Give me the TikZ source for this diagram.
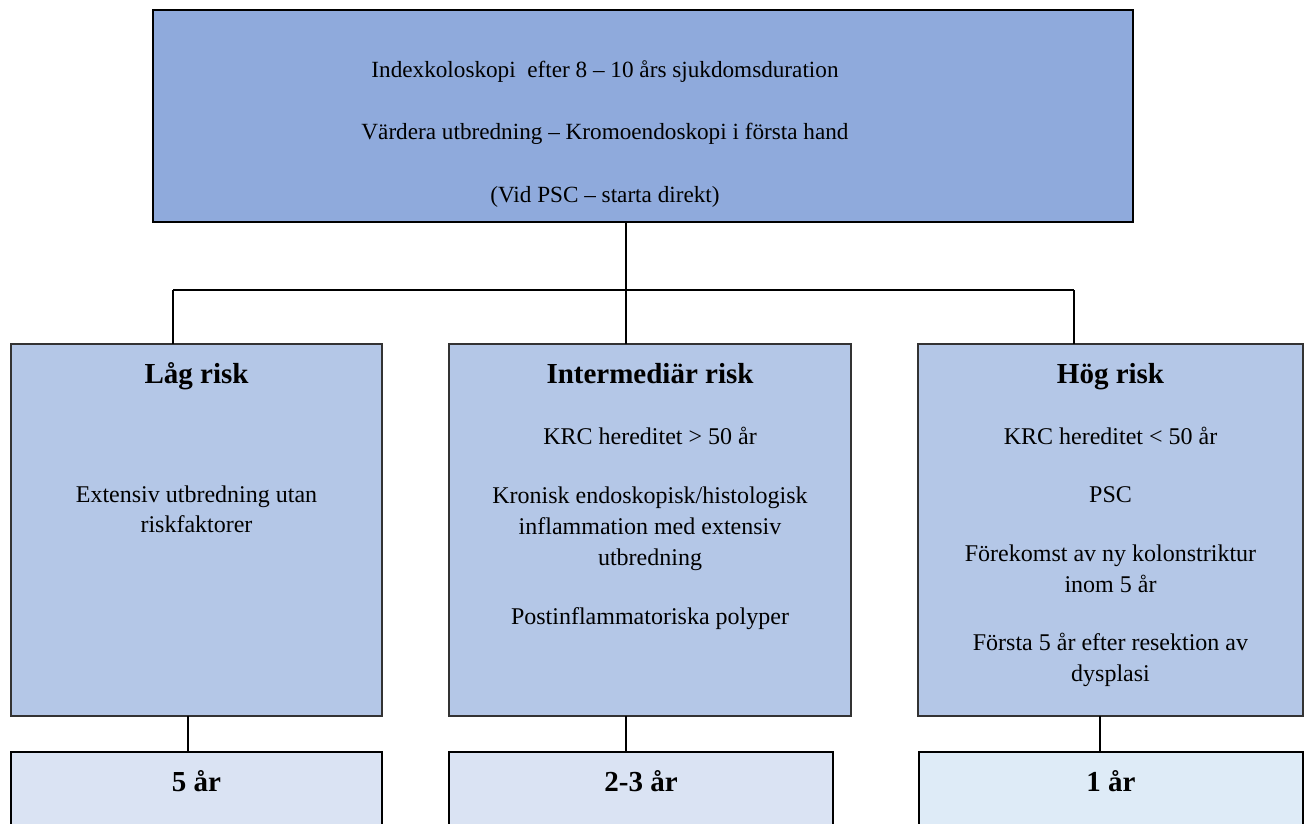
\documentclass[tikz,border=0pt]{standalone}
\usepackage{fontspec}
\setmainfont{Liberation Serif}
\definecolor{topfill}{HTML}{8FAADC}
\definecolor{midfill}{HTML}{B4C7E7}
\definecolor{resfill}{HTML}{DAE3F3}
\definecolor{resfillb}{HTML}{DEEBF7}
\tikzset{
  boxbase/.style={draw, rectangle, inner sep=0pt, outer sep=0pt, anchor=north west},
  topbox/.style={boxbase, fill=topfill, line width=2pt, draw=black},
  midbox/.style={boxbase, fill=midfill, line width=1.6pt, draw=black!80},
  resbox/.style={boxbase, fill=resfill, line width=2pt, draw=black},
  txt/.style={anchor=base, inner sep=0pt, font=\fontsize{24pt}{29pt}\selectfont},
  toptxt/.style={anchor=base, inner sep=0pt, font=\fontsize{23.2pt}{28pt}\selectfont},
  head/.style={anchor=base, inner sep=0pt, font=\fontsize{29pt}{34pt}\selectfont\bfseries},
  conn/.style={line width=2pt, draw=black}
}
\begin{document}
\begin{tikzpicture}[x=1pt,y=1pt]
\useasboundingbox (0,0) rectangle (1309,-823);
\clip (0,0) rectangle (1309,-823);
% boxes
\node[topbox, minimum width=980pt, minimum height=212pt] (top) at (153,-10) {};
\node[midbox, minimum width=371pt, minimum height=372pt] (low) at (11,-344) {};
\node[midbox, minimum width=402pt, minimum height=372pt] (mid) at (449,-344) {};
\node[midbox, minimum width=385pt, minimum height=372pt] (high) at (918,-344) {};
\node[resbox, minimum width=371pt, minimum height=110pt] (rlow) at (11,-752) {};
\node[resbox, minimum width=384pt, minimum height=110pt] (rmid) at (449,-752) {};
\node[resbox, fill=resfillb, minimum width=384pt, minimum height=110pt] (rhigh) at (919,-752) {};
% connectors
\coordinate (jc) at (626,-290);
\coordinate (jl) at (173,-290);
\coordinate (jr) at (1074,-290);
\coordinate (dl) at (188,0);
\coordinate (dm) at (626,0);
\coordinate (dr) at (1100,0);
\draw[conn] (top.south -| jc) -- (jc);
\draw[conn] (jl) -- (jr);
\draw[conn] (jl) -- (low.north -| jl);
\draw[conn] (jc) -- (mid.north -| jc);
\draw[conn] (jr) -- (high.north -| jr);
\draw[conn] (low.south -| dl) -- (rlow.north -| dl);
\draw[conn] (mid.south -| dm) -- (rmid.north -| dm);
\draw[conn] (high.south -| dr) -- (rhigh.north -| dr);
% top text
\node[toptxt] (t1) at (605,-77) {Indexkoloskopi\ \ efter 8 – 10 års sjukdomsduration};
\node[toptxt] (t2) at (605,-139) {Värdera utbredning – Kromoendoskopi i första hand};
\node[toptxt] (t3) at (605,-202) {(Vid PSC – starta direkt)};
% low risk
\node[head] (lh) at (196.5,-383) {Låg risk};
\node[txt] (l1) at (196.5,-502) {Extensiv utbredning utan};
\node[txt] (l2) at (196.5,-532) {riskfaktorer};
% intermediate
\node[head] (mh) at (650,-383) {Intermediär risk};
\node[txt] (m1) at (650,-444) {KRC hereditet > 50 år};
\node[txt] (m2) at (650,-503) {Kronisk endoskopisk/histologisk};
\node[txt] (m3) at (650,-534) {inflammation med extensiv};
\node[txt] (m4) at (650,-565) {utbredning};
\node[txt] (m5) at (650,-624) {Postinflammatoriska polyper};
% high
\node[head] (hh) at (1110.5,-383) {Hög risk};
\node[txt] (h1) at (1110.5,-444) {KRC hereditet < 50 år};
\node[txt] (h2) at (1110.5,-502) {PSC};
\node[txt] (h3) at (1110.5,-561) {Förekomst av ny kolonstriktur};
\node[txt] (h4) at (1110.5,-592) {inom 5 år};
\node[txt] (h5) at (1110.5,-650) {Första 5 år efter resektion av};
\node[txt] (h6) at (1110.5,-681) {dysplasi};
% results
\node[head] (r1) at (196.5,-791) {5 år};
\node[head] (r2) at (641,-791) {2-3 år};
\node[head] (r3) at (1111,-791) {1 år};
\end{tikzpicture}
\end{document}
